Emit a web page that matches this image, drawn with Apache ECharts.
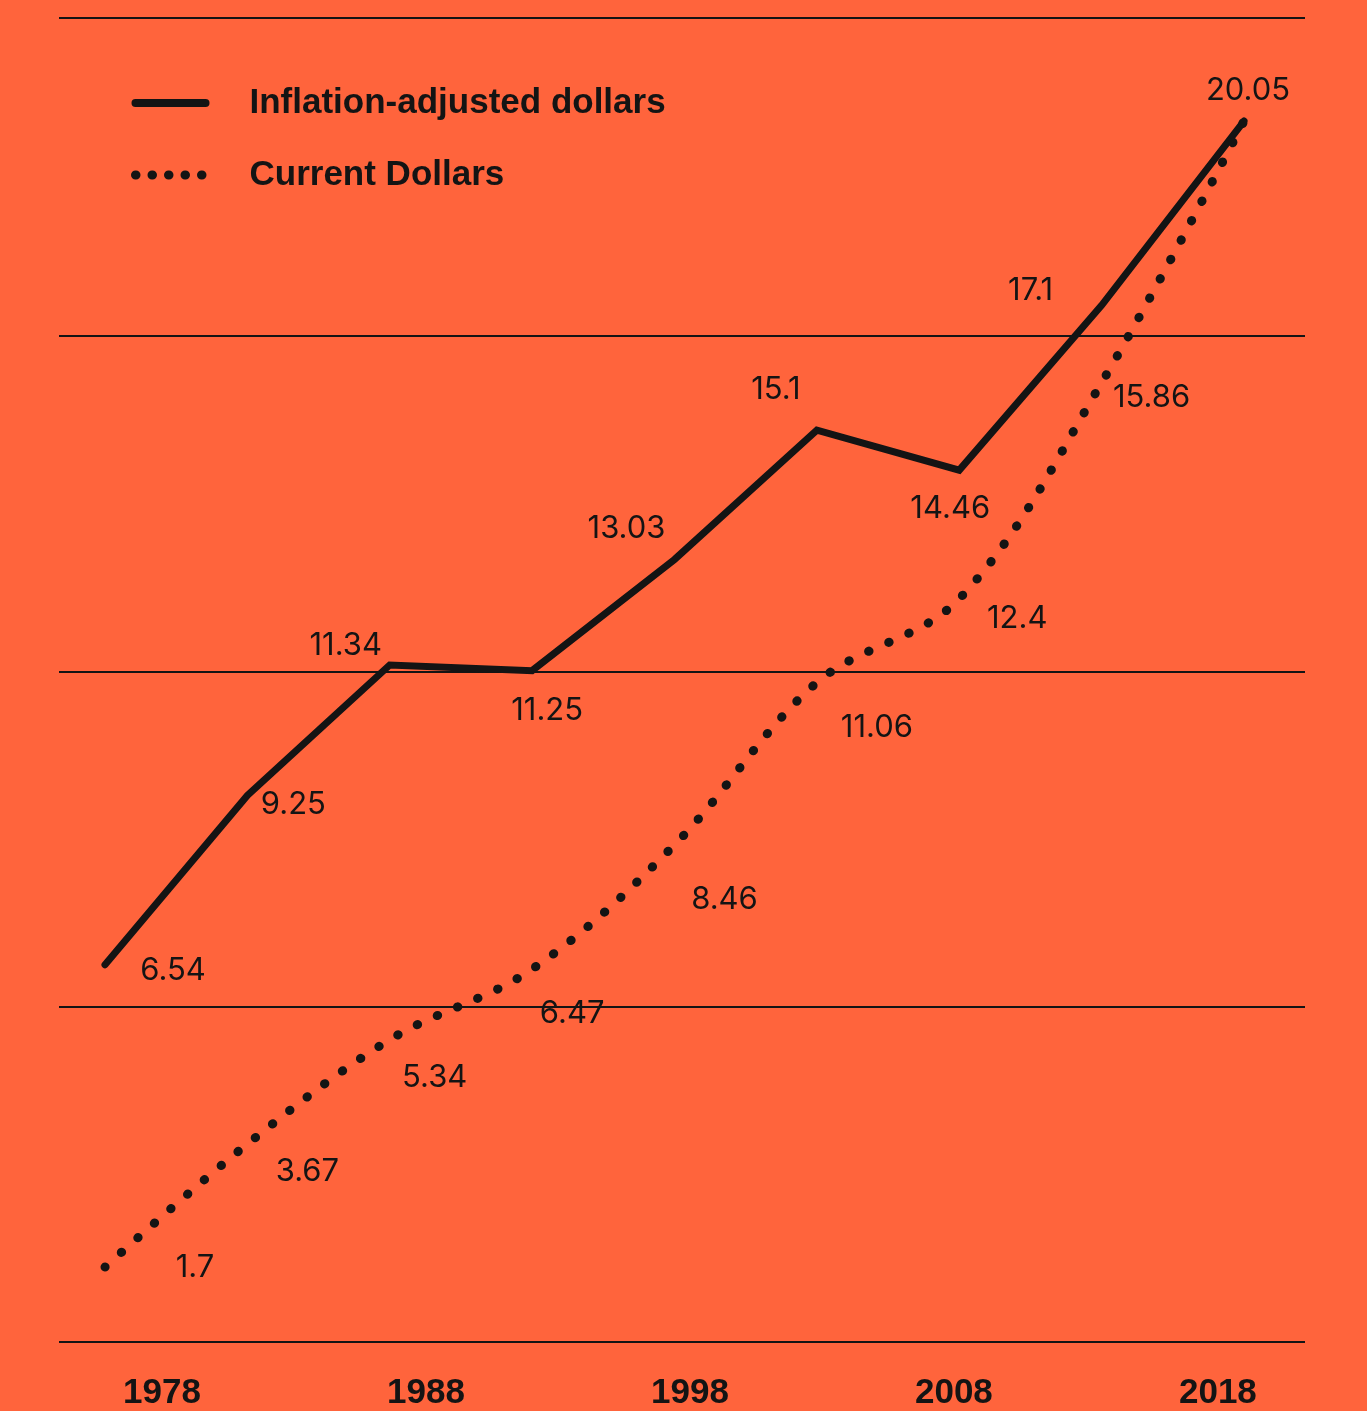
<!DOCTYPE html>
<html>
<head>
<meta charset="utf-8">
<script src="https://cdn.jsdelivr.net/npm/echarts@6/dist/echarts.min.js"></script>
<style>
  html, body { margin: 0; padding: 0; background: #FF643C; }
  #chart { width: 1367px; height: 1411px; }
</style>
</head>
<body>
<div id="chart"></div>
<script>
// Hourly wage, 1978–2018, sampled every five years
const years = [1978, 1983, 1988, 1993, 1998, 2003, 2008, 2013, 2018];
const inflationAdjusted = [6.54, 9.25, 11.34, 11.25, 13.03, 15.1, 14.46, 17.1, 20.05];
const currentDollars = [1.7, 3.67, 5.34, 6.47, 8.46, 11.06, 12.4, 15.86, 20.05];
const yearTicks = [1978, 1988, 1998, 2008, 2018];
const seriesNames = ['Inflation-adjusted dollars', 'Current Dollars'];

// Where each value label sits relative to its point (pixels)
const adjustedLabelOffsets = [[68, 6], [46, 9], [-44, -19], [15, 40], [-48, -31], [-41, -41], [-9, 39], [-71, -15], [4, -30]];
const currentLabelOffsets = [[90, 1], [60, 28], [45, 38], [40, 45], [50, 55], [60, 45], [58, 20], [50, 15], null];

const INK = '#141414';
const valueFont = { fontFamily: 'Inter, "Noto Sans", sans-serif', fontSize: 31, fontWeight: 400, color: INK };

function points(values, offsets) {
  return years.map((yr, i) => ({
    value: [yr, values[i]],
    label: offsets[i] ? { show: true, offset: offsets[i] } : { show: false }
  }));
}

const chart = echarts.init(document.getElementById('chart'), null, { renderer: 'canvas' });

chart.setOption({
  backgroundColor: '#FF643C',
  animation: false,
  grid: { left: 59, right: 62, top: 18, bottom: 69, containLabel: false, outerBoundsMode: 'none' },
  legend: {
    orient: 'vertical',
    left: 126,
    top: 80,
    itemWidth: 70,
    itemHeight: 16,
    itemGap: 36,
    itemStyle: { color: 'rgba(0,0,0,0)', borderWidth: 0 },
    textStyle: {
      fontFamily: '"Liberation Sans", Arial, sans-serif',
      fontWeight: 'bold',
      fontSize: 35,
      lineHeight: 36,
      color: INK,
      padding: [0, 0, 0, 39]
    },
    data: [
      { name: seriesNames[0], lineStyle: { color: INK, width: 8, cap: 'round', type: 'solid' } },
      { name: seriesNames[1], lineStyle: { color: INK, type: [0.5, 16], width: 9, cap: 'round' } }
    ]
  },
  xAxis: [
    {
      // scale the points are drawn on
      type: 'value', min: 1976.385, max: 2020.142, show: false
    },
    {
      // year labels along the bottom
      type: 'value', min: 1974.1, max: 2021.3, position: 'bottom',
      axisLine: { show: false }, axisTick: { show: false }, splitLine: { show: false },
      axisLabel: {
        customValues: yearTicks,
        formatter: v => String(v),
        margin: 34,
        fontFamily: '"Liberation Sans", Arial, sans-serif',
        fontWeight: 'bold',
        fontSize: 35,
        color: INK
      }
    }
  ],
  yAxis: [
    { type: 'value', min: 0.5, max: 21.7, show: false },
    {
      // horizontal rules: evenly spaced from the base, plus one at the top edge
      type: 'value', min: 0, max: 3.949, interval: 1,
      axisLabel: { show: false }, axisLine: { show: false }, axisTick: { show: false },
      splitLine: { show: true, lineStyle: { color: INK, width: 2 } }
    }
  ],
  series: [
    {
      name: seriesNames[0],
      type: 'line',
      xAxisIndex: 0, yAxisIndex: 0,
      data: points(inflationAdjusted, adjustedLabelOffsets),
      symbol: 'circle', symbolSize: 1, showSymbol: true,
      itemStyle: { color: 'rgba(0,0,0,0)', borderWidth: 0 },
      lineStyle: { color: INK, width: 7, cap: 'round', join: 'miter' },
      label: Object.assign({ show: true, position: 'inside', formatter: p => String(p.value[1]) }, valueFont),
      emphasis: { disabled: true },
      z: 3
    },
    {
      name: seriesNames[1],
      type: 'line',
      xAxisIndex: 0, yAxisIndex: 0,
      smooth: 0.35,
      data: points(currentDollars, currentLabelOffsets),
      symbol: 'circle', symbolSize: 1, showSymbol: true,
      itemStyle: { color: 'rgba(0,0,0,0)', borderWidth: 0 },
      lineStyle: { color: INK, width: 9, type: [0.5, 21.5], cap: 'round' },
      label: Object.assign({ show: true, position: 'inside', formatter: p => String(p.value[1]) }, valueFont),
      emphasis: { disabled: true },
      z: 4
    }
  ]
});
</script>
</body>
</html>
